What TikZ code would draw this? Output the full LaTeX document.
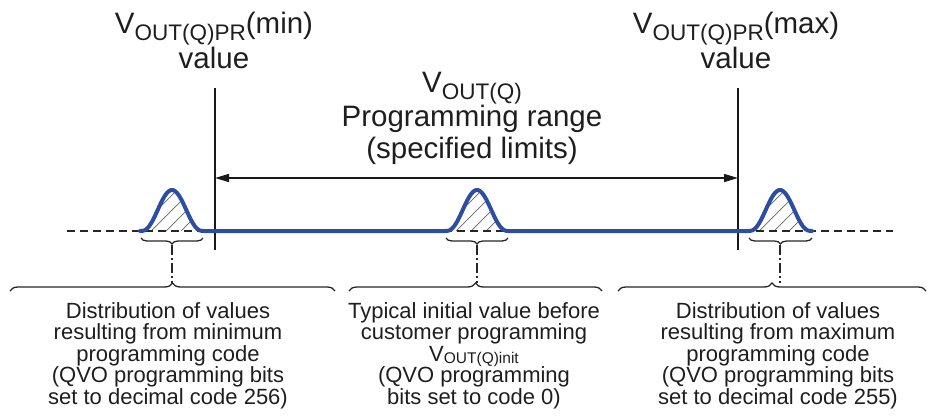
\documentclass[tikz,border=0pt]{standalone}
\usepackage{fontspec}
\setmainfont{Liberation Sans}
\usetikzlibrary{arrows.meta,decorations.pathreplacing}
\definecolor{myblue}{RGB}{45,78,160}
\definecolor{txt}{RGB}{30,30,30}
\newcommand\subtop[1]{\smash{\raisebox{-7pt}{\fontsize{22.5}{22.5}\selectfont #1}}}
\newcommand\subbot[1]{\smash{\raisebox{-2pt}{\fontsize{15.5}{15.5}\selectfont #1}}}
\newcommand\bumpy[1]{231-41*(1-(#1/32)^2)*(1-(#1/32)^2)*(1-(#1/32)^2)}
\begin{document}
\begin{tikzpicture}[x=1pt,y=-1pt,
  toplabel/.style={font=\fontsize{29.5}{35}\selectfont, align=center, inner sep=0pt, text=txt, anchor=north},
  botlabel/.style={font=\fontsize{22}{21.6}\selectfont, align=center, inner sep=0pt, text=txt, anchor=north},
  thinline/.style={line width=1.4pt, draw=black!90},
  blueline/.style={line width=4pt, draw=myblue, line join=round, line cap=round},
  dashbase/.style={line width=1.6pt, draw=black!85, dash pattern=on 8pt off 5pt},
  hatchline/.style={line width=0.7pt, draw=black!60},
  conn/.style={line width=1.3pt, draw=black!85, dash pattern=on 10pt off 3pt on 2pt off 3pt},
  bracesmall/.style={line width=1.3pt, draw=black!85, decorate, decoration={brace, amplitude=6pt}},
  bracebig/.style={line width=1.3pt, draw=black!85, decorate, decoration={brace, amplitude=8pt}},
  arr/.style={thinline, {Triangle[length=14pt,width=8pt]}-{Triangle[length=14pt,width=8pt]}}
]
\useasboundingbox (0,0) rectangle (934,418);

% top labels
\node[toplabel] (minlbl) at (214,12) {V\subtop{OUT(Q)PR}(min)\\value};
\node[toplabel] (maxlbl) at (736,12) {V\subtop{OUT(Q)PR}(max)\\value};
\node[toplabel] (rangelbl) at (472,72) {V\subtop{OUT(Q)}\\[-1pt]Programming range\\[-3pt](specified limits)};

% vertical limit lines
\coordinate (minTop) at (215,88);
\coordinate (minBot) at (215,250);
\coordinate (maxTop) at (738,88);
\coordinate (maxBot) at (738,250);
\draw[thinline] (minTop) -- (minBot);
\draw[thinline] (maxTop) -- (maxBot);

% range arrow
\coordinate (aL) at (215,178);
\coordinate (aR) at (738,178);
\draw[arr] (aL) -- (aR);

% dashed axis
\coordinate (dL) at (67,231);
\coordinate (dR) at (893,231);

% hatching
\foreach \c in {172,477,780}{
  \begin{scope}
    \clip plot[domain=-32:32, samples=60] ({\c+\x},{\bumpy{\x}}) -- cycle;
    \foreach \k in {-66,-51,...,40}{
      \draw[hatchline] ({\c+\k},231) -- ({\c+\k+50},181);
    }
  \end{scope}
}
\draw[dashbase] (dL) -- (dR);

% blue curve
\draw[blueline] plot[domain=-32:32, samples=60] ({172+\x},{\bumpy{\x}})
  -- plot[domain=-32:32, samples=60] ({477+\x},{\bumpy{\x}})
  -- plot[domain=-32:32, samples=60] ({780+\x},{\bumpy{\x}});

% small braces
\draw[bracesmall] (203,238) -- (141,238);
\draw[bracesmall] (508,238) -- (446,238);
\draw[bracesmall] (812,238) -- (749,238);

% big braces
\draw[bracebig] (10,291) -- (335,291);
\draw[bracebig] (349,291) -- (602,291);
\draw[bracebig] (618,291) -- (926,291);

% connectors
\coordinate (sL) at (172,245);
\coordinate (bL) at (172,283);
\coordinate (sC) at (477,245);
\coordinate (bC) at (477,283);
\coordinate (sR) at (780,245);
\coordinate (bR) at (780,283);
\draw[conn] (sL) -- (bL);
\draw[conn] (sC) -- (bC);
\draw[conn] (sR) -- (bR);

% bottom labels
\node[botlabel] (leftlbl) at (168,302) {Distribution of values\\resulting from minimum\\programming code\\(QVO programming bits\\set to decimal code 256)};
\node[botlabel] (midlbl) at (474,302) {Typical initial value before\\customer programming\\V\subbot{OUT(Q)init}\\(QVO programming\\bits set to code 0)};
\node[botlabel] (rightlbl) at (778,302) {Distribution of values\\resulting from maximum\\programming code\\(QVO programming bits\\set to decimal code 255)};
\end{tikzpicture}
\end{document}
